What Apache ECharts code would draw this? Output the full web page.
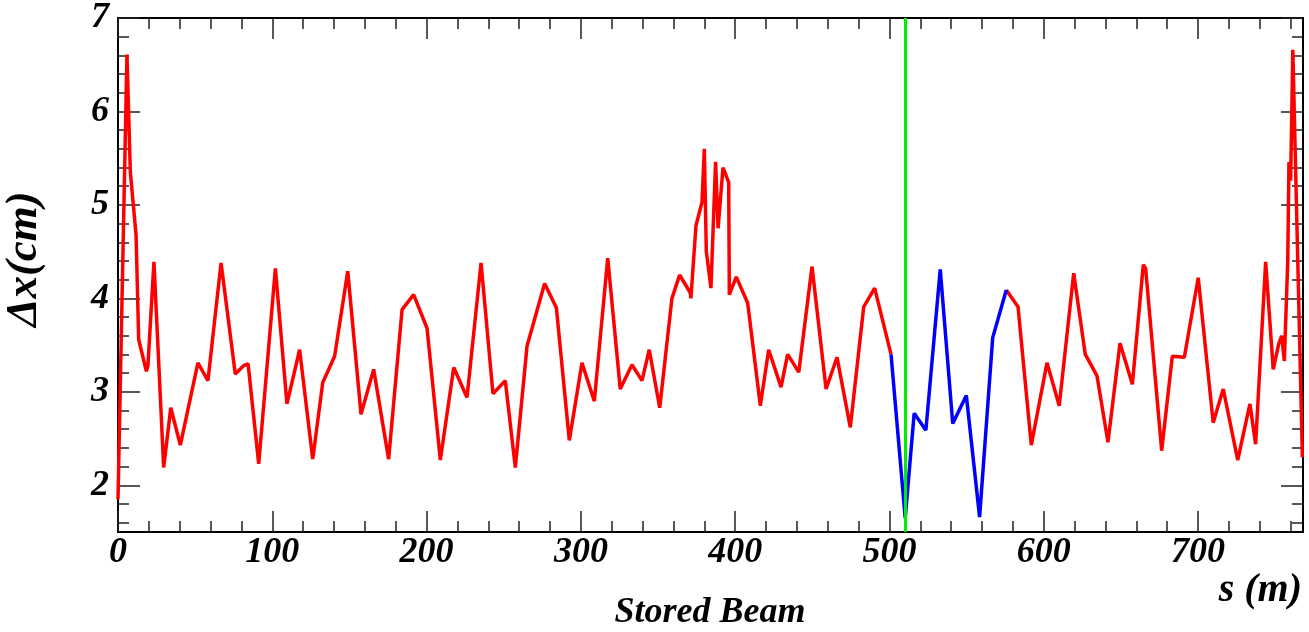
<!DOCTYPE html>
<html><head><meta charset="utf-8">
<script src="https://cdn.jsdelivr.net/npm/echarts@6/dist/echarts.min.js"></script>
<style>html,body{margin:0;padding:0;background:#fff}#c{width:1309px;height:632px}</style>
</head><body><div id="c"></div>
<script>
// s position (m)
const sPos = [
  0, 5.8, 8.0, 11.7, 13.4, 14.5, 18.4, 19.4, 23.3, 29.6,
  34.2, 39.3, 40.4, 51.8, 58.3, 66.8, 76.0, 81.4, 84.3, 91.2,
  102.0, 109.5, 117.7, 126.2, 132.7, 140.4, 148.9, 157.5, 165.7, 175.4,
  184.1, 191.6, 200.3, 208.9, 217.6, 226.2, 235.3, 243.0, 251.0, 257.5,
  265.1, 276.5, 284.1, 292.5, 300.7, 308.7, 317.4, 325.5, 333.1, 339.6,
  344.3, 351.1, 359.0, 364.0, 370.9, 371.3, 374.6, 378.5, 380.0, 381.3,
  384.3, 387.3, 388.9, 392.1, 395.8, 396.2, 400.7, 408.1, 416.3, 421.7,
  429.7, 434.0, 441.2, 449.8, 458.9, 466.0, 474.6, 483.3, 490.4, 501.0,
  510.2, 516.0, 523.6, 532.9, 541.0, 549.8, 558.4, 566.9, 575.7, 583.3,
  591.9, 602.1, 610.0, 619.4, 626.9, 634.5, 641.6, 649.4, 657.4, 664.5,
  666.0, 676.4, 683.3, 691.1, 700.1, 709.8, 716.3, 725.7, 733.6, 737.3,
  738.5, 743.8, 748.7, 752.4, 754.2, 755.9, 758.1, 758.9, 760.0, 761.4,
  767.6
];
// Delta x (cm)
const dxVal = [
  1.85, 6.61, 5.35, 4.68, 3.56, 3.58, 3.22, 3.28, 4.39, 2.19,
  2.83, 2.50, 2.43, 3.31, 3.12, 4.38, 3.19, 3.28, 3.30, 2.23,
  4.32, 2.87, 3.45, 2.28, 3.10, 3.38, 4.29, 2.76, 3.24, 2.28,
  3.88, 4.04, 3.68, 2.27, 3.26, 2.94, 4.38, 2.98, 3.12, 2.19,
  3.49, 4.16, 3.90, 2.48, 3.31, 2.90, 4.43, 3.03, 3.29, 3.12,
  3.45, 2.83, 4.00, 4.25, 4.06, 4.00, 4.78, 5.03, 5.60, 4.50,
  4.11, 5.46, 4.75, 5.40, 5.24, 4.04, 4.23, 3.95, 2.85, 3.45,
  3.05, 3.40, 3.21, 4.34, 3.03, 3.37, 2.62, 3.91, 4.11, 3.40,
  1.65, 2.77, 2.59, 4.31, 2.66, 2.96, 1.66, 3.58, 4.09, 3.91,
  2.43, 3.31, 2.85, 4.27, 3.40, 3.17, 2.46, 3.52, 3.08, 4.36,
  4.32, 2.37, 3.38, 3.37, 4.22, 2.67, 3.03, 2.27, 2.87, 2.44,
  2.45, 4.39, 3.24, 3.52, 3.60, 3.33, 4.39, 5.46, 5.26, 6.66,
  2.30
];
// highlighted (blue) section, index range in the arrays above
const blueStart = 79, blueEnd = 88;
// vertical marker position (m)
const markerS = 510.5;

const xMajorTicks = [0, 100, 200, 300, 400, 500, 600, 700];
const xMinorTicks = [20, 40, 60, 80, 120, 140, 160, 180, 220, 240, 260, 280, 320, 340, 360, 380,
  420, 440, 460, 480, 520, 540, 560, 580, 620, 640, 660, 680, 720, 740, 760];
const yMajorTicks = [2, 3, 4, 5, 6, 7];
const yMinorTicks = [1.6, 1.8, 2.2, 2.4, 2.6, 2.8, 3.2, 3.4, 3.6, 3.8, 4.2, 4.4, 4.6, 4.8,
  5.2, 5.4, 5.6, 5.8, 6.2, 6.4, 6.6, 6.8];

const xTitle = 's (m)';
const yTitle = '\u0394x(cm)';
const bottomTitle = 'Stored Beam';

const FONT = "'Liberation Serif','DejaVu Serif',serif";
const pts = sPos.map((s, i) => [s, dxVal[i]]);
const red1 = pts.slice(0, blueStart + 1);
const blue = pts.slice(blueStart, blueEnd + 1);
const red2 = pts.slice(blueEnd);

const X_MIN = 0, X_MAX = 768, Y_MIN = 1.5, Y_MAX = 7;
const tickColor = '#222';
const labelStyle = { color: '#000', fontFamily: FONT, fontWeight: 'bold', fontStyle: 'italic', fontSize: 36 };
function xAx(pos, ticks, len, labels) {
  return {
    type: 'value', position: pos, min: X_MIN, max: X_MAX,
    axisLine: { show: true, onZero: false, lineStyle: { color: '#000', width: 2 } },
    axisTick: { show: true, inside: true, length: len, customValues: ticks, lineStyle: { color: tickColor, width: 1.5 } },
    axisLabel: labels ? Object.assign({ show: true, customValues: ticks, margin: 3 }, labelStyle) : { show: false },
    splitLine: { show: false }, minorTick: { show: false }
  };
}
function yAx(pos, ticks, len, labels) {
  return {
    type: 'value', position: pos, min: Y_MIN, max: Y_MAX,
    axisLine: { show: true, onZero: false, lineStyle: { color: '#000', width: 2 } },
    axisTick: { show: true, inside: true, length: len, customValues: ticks, lineStyle: { color: tickColor, width: 1.5 } },
    axisLabel: labels ? Object.assign({ show: true, customValues: ticks, margin: 9 }, labelStyle) : { show: false },
    splitLine: { show: false }, minorTick: { show: false }
  };
}

const chart = echarts.init(document.getElementById('c'), null, { renderer: 'canvas' });
chart.setOption({
  animation: false,
  backgroundColor: '#fff',
  grid: { left: 118, right: 6, top: 15, bottom: 100, containLabel: false },
  xAxis: [
    xAx('bottom', xMajorTicks, 21, true),
    xAx('bottom', xMinorTicks, 11, false),
    xAx('top', xMajorTicks, 21, false),
    xAx('top', xMinorTicks, 11, false)
  ],
  yAxis: [
    yAx('left', yMajorTicks, 22, true),
    yAx('left', yMinorTicks, 11, false),
    yAx('right', yMajorTicks, 22, false),
    yAx('right', yMinorTicks, 11, false)
  ],
  series: [
    { type: 'line', data: red1, showSymbol: false, symbol: 'none', lineStyle: { color: '#ff0000', width: 3.5 }, z: 3 },
    { type: 'line', data: red2, showSymbol: false, symbol: 'none', lineStyle: { color: '#ff0000', width: 3.5 }, z: 3 },
    { type: 'line', data: blue, showSymbol: false, symbol: 'none', lineStyle: { color: '#0000ff', width: 3.5 }, z: 4 },
    { type: 'line', data: [], z: 5,
      markLine: { silent: true, symbol: ['none', 'none'], label: { show: false },
        lineStyle: { color: '#00ee00', width: 3, type: 'solid' },
        data: [{ xAxis: markerS }] } }
  ],
  graphic: [
    { type: 'text', x: 24, y: 259, rotation: Math.PI / 2,
      style: { text: yTitle, fill: '#000', font: "bold italic 45px 'Liberation Serif', serif",
        align: 'center', verticalAlign: 'middle', textAlign: 'center', textVerticalAlign: 'middle' } },
    { type: 'text', x: 1302, y: 591,
      style: { text: xTitle, fill: '#000', font: "bold italic 40px 'Liberation Serif', serif",
        align: 'right', verticalAlign: 'middle', textAlign: 'right', textVerticalAlign: 'middle' } },
    { type: 'text', x: 710, y: 613,
      style: { text: bottomTitle, fill: '#000', font: "bold italic 36px 'Liberation Serif', serif",
        align: 'center', verticalAlign: 'middle', textAlign: 'center', textVerticalAlign: 'middle' } }
  ]
});
</script>
</body></html>
